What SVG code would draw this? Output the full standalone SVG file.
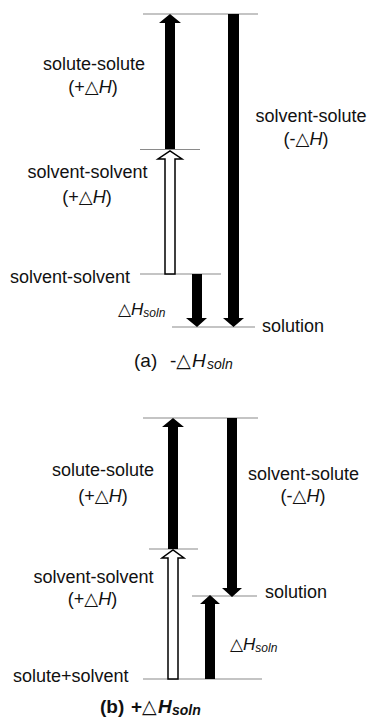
<svg xmlns="http://www.w3.org/2000/svg" width="369" height="721" viewBox="0 0 369 721">
<style>
.lvl{stroke:#8a8a8a;stroke-width:1.2;fill:none}
.blk{fill:#000;stroke:none}
.wht{fill:#fff;stroke:#000;stroke-width:1.5}
text{font-family:"Liberation Sans","DejaVu Sans",Arial,sans-serif;font-size:18px;fill:#111}
.c{text-anchor:middle}
.i{font-style:italic}
.sub{font-style:italic;font-size:12px}
.dh{font-size:17px}
</style>
<rect width="369" height="721" fill="#fff"/>

<!-- Diagram (a) -->
<g id="a-top-level"><line class="lvl" x1="143" y1="14" x2="258" y2="14"/></g>
<g id="a-solute-solute">
  <line class="lvl" x1="140" y1="149.5" x2="200" y2="149.5"/>
  <text class="c" x="94" y="70">solute-solute</text>
  <text class="c" x="93" y="93">(+△<tspan class="i">H</tspan>)</text>
</g>
<g id="a-solvent-solute">
  <text class="c" x="311" y="122">solvent-solute</text>
  <text class="c" x="306" y="145">(-△<tspan class="i">H</tspan>)</text>
</g>
<g id="a-solvent-solvent-upper">
  <text class="c" x="87.5" y="178">solvent-solvent</text>
  <text class="c" x="87" y="203">(+△<tspan class="i">H</tspan>)</text>
</g>
<g id="a-solvent-solvent-level">
  <line class="lvl" x1="140" y1="274" x2="221" y2="274"/>
  <text x="10" y="283">solvent-solvent</text>
</g>
<g id="a-dH-soln">
  <text x="118" y="315" class="dh">△<tspan class="i">H</tspan><tspan class="sub" dy="2">soln</tspan></text>
</g>
<g id="a-solution">
  <line class="lvl" x1="172" y1="327" x2="255" y2="327"/>
  <text x="262" y="332">solution</text>
</g>
<g id="a-caption">
  <text y="367" style="font-size:19px"><tspan x="134">(a)</tspan><tspan x="170">-△</tspan><tspan class="i" x="192">H</tspan><tspan class="sub" x="207" dy="2" style="font-size:14px">soln</tspan></text>
</g>

<!-- Diagram (b) -->
<g id="b-top-level"><line class="lvl" x1="143" y1="418" x2="258" y2="418"/></g>
<g id="b-solute-solute">
  <line class="lvl" x1="149" y1="549" x2="198" y2="549"/>
  <text class="c" x="103" y="476">solute-solute</text>
  <text class="c" x="103" y="502">(+△<tspan class="i">H</tspan>)</text>
</g>
<g id="b-solvent-solute">
  <text class="c" x="303.5" y="480">solvent-solute</text>
  <text class="c" x="303" y="502">(-△<tspan class="i">H</tspan>)</text>
</g>
<g id="b-solvent-solvent">
  <text class="c" x="93.5" y="583">solvent-solvent</text>
  <text class="c" x="92.5" y="605">(+△<tspan class="i">H</tspan>)</text>
</g>
<g id="b-solution">
  <line class="lvl" x1="192" y1="596" x2="257" y2="596"/>
  <text x="265" y="598">solution</text>
</g>
<g id="b-dH-soln">
  <text x="230" y="650" class="dh">△<tspan class="i">H</tspan><tspan class="sub" dy="2">soln</tspan></text>
</g>
<g id="b-solute-solvent">
  <line class="lvl" x1="143" y1="679" x2="262" y2="679"/>
  <text x="13" y="682">solute+solvent</text>
</g>
<g id="b-caption">
  <text y="713" font-weight="bold" style="font-size:19px"><tspan x="100">(b)</tspan><tspan x="131">+△</tspan><tspan class="i" x="158">H</tspan><tspan class="sub" x="172" dy="2" style="font-size:14px">soln</tspan></text>
</g>

<!-- Connectors (arrows) -->
<g id="connectors">
  <!-- (a) -->
  <polygon class="blk" points="165,149 165,23 159,23 170,14 181,23 175,23 175,149"/>
  <polygon class="wht" points="165,274 165,159 158,159 170,151 182,159 175,159 175,274"/>
  <polygon class="blk" points="228,14 239,14 239,318 244,318 233.5,327 223,318 228,318"/>
  <polygon class="blk" points="192,274 202,274 202,318 207,318 197,327 186,318 192,318"/>
  <!-- (b) -->
  <polygon class="blk" points="168,549 168,427 162,427 173,418 184,427 178,427 178,549"/>
  <polygon class="wht" points="168,679 168,558 162,558 173,550 184,558 178,558 178,679"/>
  <polygon class="blk" points="227,418 237,418 237,588 242,588 232,597 222,588 227,588"/>
  <polygon class="blk" points="205,679 205,604 200,604 210,595 220,604 215,604 215,679"/>
</g>
</svg>
